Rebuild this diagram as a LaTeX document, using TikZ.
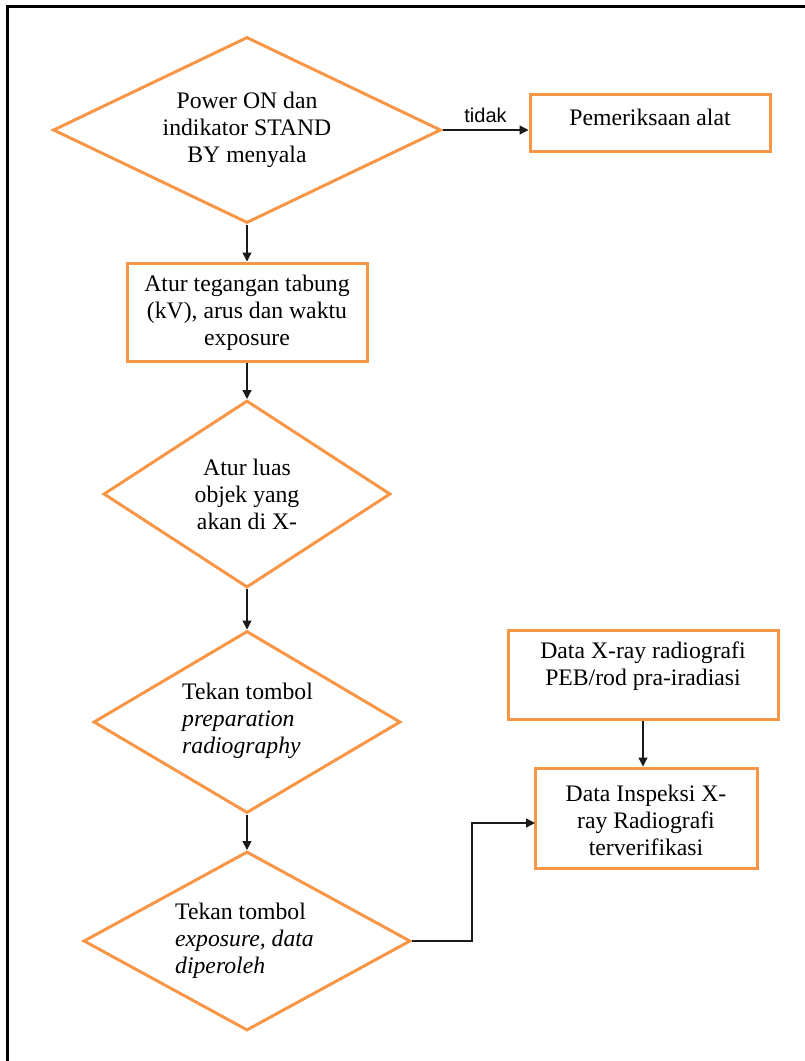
\documentclass[tikz,border=0pt]{standalone}
\usepackage{fontspec}
\setmainfont{Liberation Serif}
\newfontfamily\sansf{Liberation Sans}
\usetikzlibrary{shapes.geometric,arrows.meta}
\definecolor{orng}{HTML}{F79646}
\definecolor{lnk}{HTML}{1A1A1A}
\begin{document}
\begin{tikzpicture}[x=1pt,y=-1pt,
  dia/.style={diamond,draw=orng,line width=3pt,inner sep=0pt,shape aspect=1},
  boxs/.style={rectangle,draw=orng,line width=3pt,inner sep=0pt},
  txt/.style={font=\fontsize{23.7}{27}\selectfont,inner sep=0pt,align=center,text=black},
  arr/.style={draw=lnk,line width=1.3pt,-{Triangle[length=9pt,width=9pt]}},
  lab/.style={font=\sansf\fontsize{20}{22}\selectfont,inner sep=0pt,text=black}
]
\useasboundingbox (0,0) rectangle (805,1061);
% frame (cut at right and bottom)
\draw[line width=3pt,black] (7,1061) -- (7,6) -- (805,6);

% diamonds
\node[dia,minimum width=388,minimum height=186] (d1) at (247,130) {};
\node[txt] (t1) at (247,130) {Power ON dan\\indikator STAND\\BY menyala};

\node[dia,minimum width=287,minimum height=187] (d2) at (247,494) {};
\node[txt] (t2) at (247,494) {Atur luas\\objek yang\\akan di X-};

\node[dia,minimum width=307,minimum height=182] (d3) at (247,722) {};
\node[txt,align=left,anchor=west] (t3) at (182,721) {Tekan tombol\\\textit{preparation}\\\textit{radiography}};

\node[dia,minimum width=327,minimum height=179] (d4) at (247,941) {};
\node[txt,align=left,anchor=west] (t4) at (175,941) {Tekan tombol\\\textit{exposure, data}\\\textit{diperoleh}};

% boxes
\node[boxs,minimum width=240,minimum height=57] (b1) at (650,122.5) {};
\node[txt] (tb1) at (650,117) {Pemeriksaan alat};

\node[boxs,minimum width=240,minimum height=98] (b2) at (247,312) {};
\node[txt] (tb2) at (247,313) {Atur tegangan tabung\\(kV), arus dan waktu\\exposure};

\node[boxs,minimum width=270,minimum height=89] (b3) at (643,674.5) {};
\node[txt] (tb3) at (643,666) {Data X-ray radiografi\\PEB/rod pra-iradiasi};

\node[boxs,minimum width=222,minimum height=100] (b4) at (646,818) {};
\node[txt] (tb4) at (646,820) {Data Inspeksi X-\\ray Radiografi\\terverifikasi};

% connectors
\draw[arr] (d1.east) -- node[lab,above=7pt] (tidak) {tidak} (d1.east -| b1.west);
\draw[arr] (d1.south) -- (b2.north);
\draw[arr] (b2.south) -- (d2.north);
\draw[arr] (d2.south) -- (d3.north);
\draw[arr] (d3.south) -- (d4.north);
\draw[arr] (b3.south) -- (b3.south |- b4.north);
\coordinate (e1) at (472,941);
\coordinate (in4) at (535,823);
\draw[arr] (d4.east) -- (e1) |- (in4);
\end{tikzpicture}
\end{document}
